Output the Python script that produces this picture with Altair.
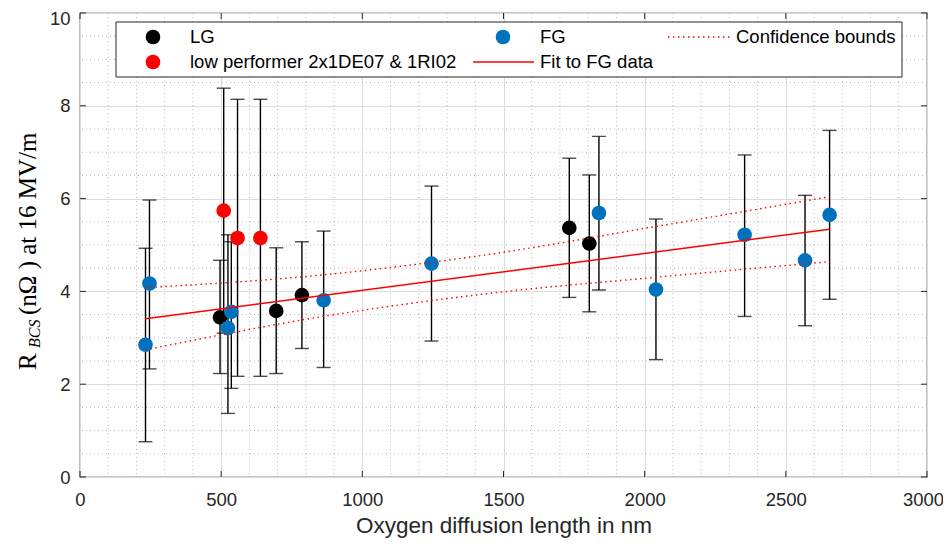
import altair as alt
import pandas as pd

# ---------------- data ----------------
lg_x = [496, 695, 786, 1733, 1804]
lg_y = [3.44, 3.58, 3.92, 5.37, 5.03]
lg_lo = [2.23, 2.23, 2.77, 3.87, 3.56]
lg_hi = [4.67, 4.94, 5.07, 6.87, 6.51]

low_x = [509, 558, 639]
low_y = [5.74, 5.15, 5.15]
low_lo = [3.10, 2.17, 2.17]
low_hi = [8.38, 8.14, 8.14]

fg_x = [232, 246, 524, 536, 863, 1245, 1838, 2040, 2354, 2568, 2655]
fg_y = [2.85, 4.17, 3.21, 3.56, 3.81, 4.60, 5.69, 4.04, 5.22, 4.67, 5.65]
fg_lo = [0.76, 2.33, 1.37, 1.91, 2.36, 2.93, 4.03, 2.53, 3.46, 3.26, 3.83]
fg_hi = [4.93, 5.97, 5.22, 5.07, 5.30, 6.27, 7.34, 5.56, 6.94, 6.07, 7.47]

fit_x = [232, 2655]
fit_y = [3.41, 5.34]

conf_x = [232, 850, 1440, 2050, 2655]
conf_upper = [4.08, 4.35, 4.79, 5.41, 6.04]
conf_lower = [2.74, 3.45, 3.95, 4.31, 4.64]

x_major = [0, 500, 1000, 1500, 2000, 2500, 3000]
y_major = [0, 2, 4, 6, 8, 10]
x_minor = [v for v in range(0, 3001, 100) if v % 500 != 0]
y_minor = [v / 2 for v in range(0, 21) if v % 4 != 0]

series_names = ["LG", "low performer 2x1DE07 & 1RI02", "FG"]
series_colors = ["#000000", "#FF0000", "#0072BD"]

# ---------------- tables ----------------
pts = pd.concat([
    pd.DataFrame({"x": lg_x, "y": lg_y, "lo": lg_lo, "hi": lg_hi, "series": series_names[0]}),
    pd.DataFrame({"x": low_x, "y": low_y, "lo": low_lo, "hi": low_hi, "series": series_names[1]}),
    pd.DataFrame({"x": fg_x, "y": fg_y, "lo": fg_lo, "hi": fg_hi, "series": series_names[2]}),
], ignore_index=True)
fit_df = pd.DataFrame({"x": fit_x, "y": fit_y})
conf_df = pd.DataFrame({"x": conf_x, "up": conf_upper, "lo": conf_lower})
xmin_df = pd.DataFrame({"v": x_minor})
ymin_df = pd.DataFrame({"v": y_minor})
xmaj_df = pd.DataFrame({"v": x_major})
ymaj_df = pd.DataFrame({"v": y_major})

W, H = 847, 464
FONT = "Liberation Sans"
TXT = "#262626"

xs = alt.Scale(domain=[0, 3000], nice=False, zero=False)
ys = alt.Scale(domain=[0, 10], nice=False, zero=False)
x_axis = alt.Axis(values=x_major, format="d", grid=True, gridColor="#dcdcdc", gridWidth=1,
                  ticks=False, tickSize=0, domain=False, labelFont=FONT, labelFontSize=18.5,
                  labelColor=TXT, labelPadding=13, title="Oxygen diffusion length in nm",
                  titleFont=FONT, titleFontSize=22.5, titleFontWeight="normal",
                  titleColor=TXT, titlePadding=6, labelFlush=False,
                  labelOffset={"condition": {"test": "datum.value === 3000", "value": -4}, "value": 0})
y_axis = alt.Axis(values=y_major, format="d", grid=True, gridColor="#dcdcdc", gridWidth=1,
                  ticks=False, tickSize=0, domain=False, labelFont=FONT, labelFontSize=18.5,
                  labelColor=TXT, labelPadding=10, title="", labelFlush=False,
                  labelOffset={"condition": {"test": "datum.value === 10", "value": 5}, "value": 0})


def X(f):
    return alt.X(f, type="quantitative", scale=xs, axis=x_axis)


def Y(f):
    return alt.Y(f, type="quantitative", scale=ys, axis=y_axis)


minor_x = alt.Chart(xmin_df).mark_rule(color="#b8b8b8", strokeWidth=1, strokeDash=[1, 3]).encode(x=X("v"))
minor_y = alt.Chart(ymin_df).mark_rule(color="#b8b8b8", strokeWidth=1, strokeDash=[1, 3]).encode(y=Y("v"))

bars = alt.Chart(pts).mark_rule(color="#000000", strokeWidth=1.4).encode(x=X("x"), y=Y("lo"), y2="hi")
cap_lo = alt.Chart(pts).mark_tick(color="#000000", orient="horizontal", size=14, thickness=1.4).encode(x=X("x"), y=Y("lo"))
cap_hi = alt.Chart(pts).mark_tick(color="#000000", orient="horizontal", size=14, thickness=1.4).encode(x=X("x"), y=Y("hi"))

points = alt.Chart(pts).mark_circle(size=215, opacity=1).encode(
    x=X("x"), y=Y("y"),
    color=alt.Color("series:N", scale=alt.Scale(domain=series_names, range=series_colors), legend=None),
)

conf_up = alt.Chart(conf_df).mark_line(color="#FF0000", strokeWidth=1.4, strokeDash=[1.5, 3.5],
                                       interpolate="monotone").encode(x=X("x"), y=Y("up"))
conf_low = alt.Chart(conf_df).mark_line(color="#FF0000", strokeWidth=1.4, strokeDash=[1.5, 3.5],
                                        interpolate="monotone").encode(x=X("x"), y=Y("lo"))
fit = alt.Chart(fit_df).mark_line(color="#FF0000", strokeWidth=1.5).encode(x=X("x"), y=Y("y"))

# inward major ticks on all four sides
tk_b = alt.Chart(xmaj_df).mark_rule(color=TXT, strokeWidth=1).encode(x=X("v"), y=alt.value(H), y2=alt.value(H - 6))
tk_t = alt.Chart(xmaj_df).mark_rule(color=TXT, strokeWidth=1).encode(x=X("v"), y=alt.value(0), y2=alt.value(6))
tk_l = alt.Chart(ymaj_df).mark_rule(color=TXT, strokeWidth=1).encode(y=Y("v"), x=alt.value(0), x2=alt.value(6))
tk_r = alt.Chart(ymaj_df).mark_rule(color=TXT, strokeWidth=1).encode(y=Y("v"), x=alt.value(W), x2=alt.value(W - 6))

one = pd.DataFrame({"k": [0]})

# legend box and entries
leg_box = alt.Chart(one).mark_rect(fill="white", stroke=TXT, strokeWidth=1).encode(
    x=alt.value(36), x2=alt.value(822), y=alt.value(9), y2=alt.value(64))
R1, R2 = 24, 49
leg_layers = [leg_box]
for (px, py, col) in [(73, R1, series_colors[0]), (73, R2, series_colors[1]), (423, R1, series_colors[2])]:
    leg_layers.append(alt.Chart(one).mark_circle(size=215, opacity=1, color=col).encode(
        x=alt.value(px), y=alt.value(py)))
leg_layers.append(alt.Chart(one).mark_rule(color="#FF0000", strokeWidth=1.4, strokeDash=[1.5, 3.5]).encode(
    x=alt.value(588), x2=alt.value(653), y=alt.value(R1)))
leg_layers.append(alt.Chart(one).mark_rule(color="#FF0000", strokeWidth=1.5).encode(
    x=alt.value(393), x2=alt.value(454), y=alt.value(R2)))
for (px, py, label) in [(110, R1, "LG"), (460, R1, "FG"), (656, R1, "Confidence bounds"),
                        (110, R2, "low performer 2x1DE07 & 1RI02"), (460, R2, "Fit to FG data")]:
    leg_layers.append(alt.Chart(one).mark_text(text=label, font=FONT, fontSize=18.5, color="#000000",
                                               align="left", baseline="middle").encode(
        x=alt.value(px), y=alt.value(py)))

# y-axis title with subscript, built from rotated text pieces
SERIF = "Liberation Serif"
yt = []
yt.append(alt.Chart(one).mark_text(text="R", font=SERIF, fontSize=25, color="#000000", angle=270,
                                   align="left", baseline="alphabetic").encode(x=alt.value(-44), y=alt.value(357)))
yt.append(alt.Chart(one).mark_text(text="BCS", font=SERIF, fontSize=16, fontStyle="italic", color="#000000",
                                   angle=270, align="left", baseline="alphabetic").encode(x=alt.value(-40), y=alt.value(335)))
yt.append(alt.Chart(one).mark_text(text="(nΩ ) at 16 MV/m", font=SERIF, fontSize=25, color="#000000", angle=270,
                                   align="left", baseline="alphabetic").encode(x=alt.value(-44), y=alt.value(302)))

chart = alt.layer(
    minor_x, minor_y, bars, cap_lo, cap_hi, points, conf_up, conf_low, fit,
    tk_b, tk_t, tk_l, tk_r, *leg_layers, *yt
).properties(
    width=W, height=H,
    autosize=alt.AutoSizeParams(type="none"),
    padding={"left": 72, "top": 5, "right": 16, "bottom": 62},
).configure_view(stroke=TXT, strokeWidth=1.2)

chart.save("out.html", embed_options={"renderer": "svg", "actions": False})
